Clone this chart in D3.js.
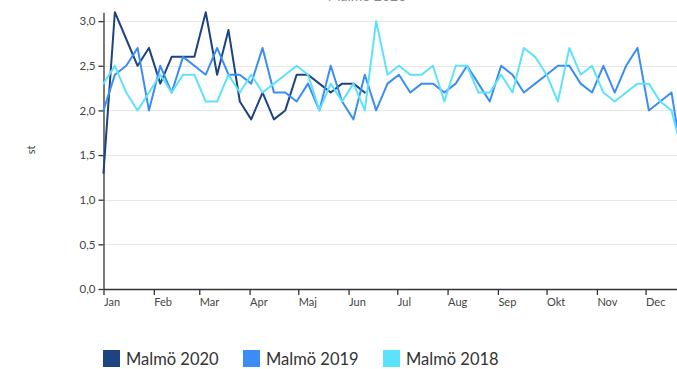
<!DOCTYPE html>
<html>
<head>
<meta charset="utf-8">
<script src="https://cdn.jsdelivr.net/npm/d3@7"></script>
<style>
  html, body { margin: 0; padding: 0; background: #fff; overflow: hidden; }
  svg { display: block; font-family: Lato, "Open Sans", sans-serif; }
</style>
</head>
<body>
<svg id="chart" width="677" height="369"></svg>
<script>
// Weekly counts per year, Malmö
const monthLabels = ["Jan","Feb","Mar","Apr","Maj","Jun","Jul","Aug","Sep","Okt","Nov","Dec"];
const yTickValues = [0, 0.5, 1, 1.5, 2, 2.5, 3];
const seriesNames = ["Malmö 2020", "Malmö 2019", "Malmö 2018"];
const seriesColors = ["#1d4380", "#3a8df5", "#5de2fb"];

const malmo2020 = [1.3, 3.1, 2.8, 2.5, 2.7, 2.3, 2.6, 2.6, 2.6, 3.1, 2.4, 2.9,
                   2.1, 1.9, 2.2, 1.9, 2.0, 2.4, 2.4, 2.3, 2.2, 2.3, 2.3, 2.2];
const malmo2019 = [2.0, 2.4, 2.5, 2.7, 2.0, 2.5, 2.2, 2.6, 2.5, 2.4, 2.7, 2.4,
                   2.4, 2.3, 2.7, 2.2, 2.2, 2.1, 2.3, 2.0, 2.5, 2.1, 1.9, 2.4,
                   2.0, 2.3, 2.4, 2.2, 2.3, 2.3, 2.2, 2.3, 2.5, 2.3, 2.1, 2.5,
                   2.4, 2.2, 2.3, 2.4, 2.5, 2.5, 2.3, 2.2, 2.5, 2.2, 2.5, 2.7,
                   2.0, 2.1, 2.2, 1.4];
const malmo2018 = [2.3, 2.5, 2.2, 2.0, 2.2, 2.4, 2.2, 2.4, 2.4, 2.1, 2.1, 2.4,
                   2.2, 2.4, 2.2, 2.3, 2.4, 2.5, 2.4, 2.0, 2.3, 2.1, 2.3, 2.0,
                   3.0, 2.4, 2.5, 2.4, 2.4, 2.5, 2.1, 2.5, 2.5, 2.2, 2.2, 2.4,
                   2.2, 2.7, 2.6, 2.4, 2.1, 2.7, 2.4, 2.5, 2.2, 2.1, 2.2, 2.3,
                   2.3, 2.1, 2.0, 1.5];

const seriesValues = [malmo2020, malmo2019, malmo2018];

const svg = d3.select("#chart");
const W = 677;

const yearStart = new Date(2019, 0, 1);
const yearEnd = new Date(2020, 0, 1);
const weekDate = i => d3.timeDay.offset(yearStart, 7 * i);

const plotLeft = 103.5;
const x = d3.scaleTime().domain([yearStart, yearEnd]).range([plotLeft, plotLeft + 365 * 1.623]);
const y = d3.scaleLinear().domain([0, 3.1]).range([289, 12.2]);

const commaFmt = v => d3.format(".1f")(v).replace(".", ",");

// Title (sits mostly above the top edge)
svg.append("text")
  .attr("x", 367).attr("y", 1)
  .attr("text-anchor", "middle")
  .attr("fill", "#8a8a8a")
  .attr("font-size", 14)
  .text("Malmö 2020");

// Horizontal grid lines
svg.append("g")
  .selectAll("line")
  .data(yTickValues.filter(v => v > 0))
  .join("line")
  .attr("x1", plotLeft).attr("x2", W)
  .attr("y1", d => Math.round(y(d)) + 0.5).attr("y2", d => Math.round(y(d)) + 0.5)
  .attr("stroke", "#e8e8e8").attr("stroke-width", 1.2);

// Y axis
const yAxis = svg.append("g")
  .attr("transform", `translate(${plotLeft},0)`)
  .call(d3.axisLeft(y).tickValues(yTickValues).tickFormat(commaFmt).tickSize(5).tickSizeOuter(0));
yAxis.select(".domain").attr("stroke", "#333").attr("stroke-width", 1.3);
yAxis.selectAll(".tick line").attr("stroke", "#333").attr("stroke-width", 1.3);
yAxis.selectAll(".tick text")
  .attr("fill", "#444").attr("font-size", 11.5).attr("x", -8)
  .attr("font-family", "Lato, sans-serif");

// Y axis title
svg.append("text")
  .attr("transform", "translate(35,150) rotate(-90)")
  .attr("text-anchor", "middle")
  .attr("fill", "#444")
  .attr("font-size", 11)
  .text("st");

// X axis with month ticks
const monthTicks = d3.timeMonth.range(yearStart, yearEnd);
const xAxis = svg.append("g")
  .attr("transform", "translate(0,289)")
  .call(d3.axisBottom(x).tickValues(monthTicks).tickFormat((d, i) => monthLabels[i]).tickSize(6).tickSizeOuter(0));
xAxis.select(".domain").attr("stroke", "#333").attr("stroke-width", 1.3);
xAxis.selectAll(".tick line").attr("stroke", "#333").attr("stroke-width", 1.3);
xAxis.selectAll(".tick text")
  .attr("fill", "#444").attr("font-size", 11)
  .attr("text-anchor", "start").attr("x", 0).attr("y", 9)
  .attr("font-family", "Lato, sans-serif");

// Series lines (later series drawn on top)
const line = d3.line()
  .x((d, i) => x(weekDate(i)))
  .y(d => y(d));

svg.append("g")
  .selectAll("path")
  .data(seriesValues)
  .join("path")
  .attr("d", d => line(d))
  .attr("fill", "none")
  .attr("stroke", (d, i) => seriesColors[i])
  .attr("stroke-width", 2)
  .attr("stroke-linejoin", "round")
  .attr("stroke-linecap", "round");

// Legend
const legendX = [103, 243, 383];
const legend = svg.append("g")
  .selectAll("g")
  .data(seriesNames)
  .join("g")
  .attr("transform", (d, i) => `translate(${legendX[i]},350)`);
legend.append("rect")
  .attr("width", 17).attr("height", 17)
  .attr("fill", (d, i) => seriesColors[i]);
legend.append("text")
  .attr("x", 23).attr("y", 15)
  .attr("fill", "#333")
  .attr("font-size", 16.5)
  .text(d => d);
</script>
</body>
</html>
